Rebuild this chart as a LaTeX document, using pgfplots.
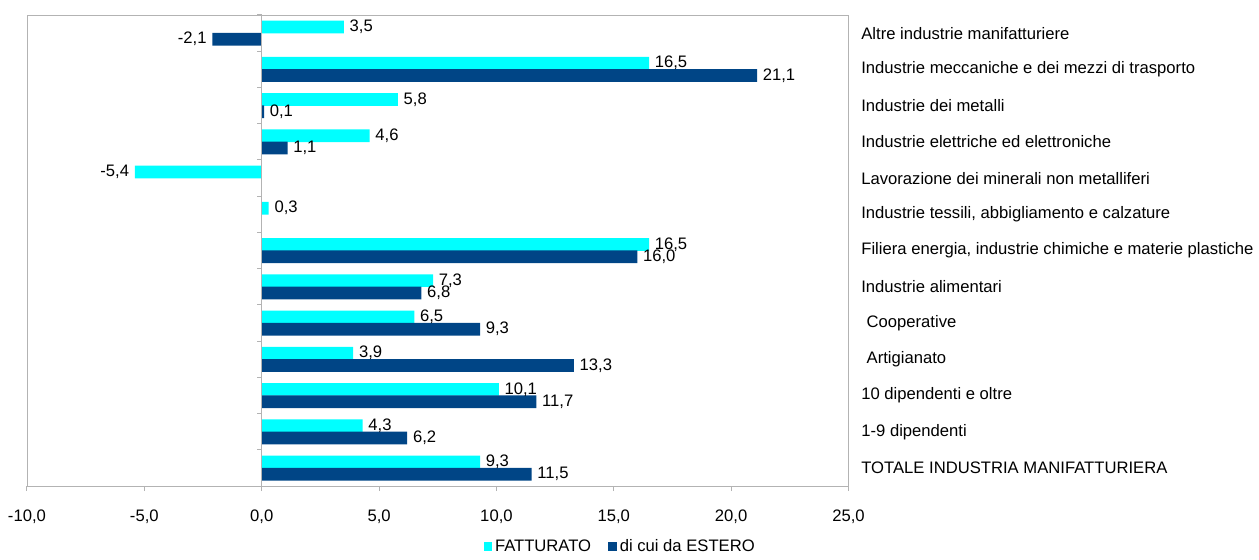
\documentclass[border=0pt]{standalone}
\usepackage{fontspec}
\setmainfont{Liberation Sans}
\usepackage{pgfplots}
\pgfplotsset{compat=1.18}
\definecolor{cfat}{HTML}{00FFFF}
\definecolor{cest}{HTML}{004586}
\definecolor{axgray}{HTML}{B3B3B3}
\begin{document}
\fontsize{12.5}{15}\selectfont
\begin{tikzpicture}
\begin{axis}[
  scale only axis,
  width=617.25pt, height=354pt,
  xmin=-10, xmax=25, ymin=-0.5, ymax=12.5,
  xbar, bar width=0.35,
  axis line style={axgray},
  every tick/.style={axgray, line width=0.8pt},
  xtick={-10,-5,0,5,10,15,20,25},
  xtick pos=bottom, tick align=outside,
  major tick length=3.75pt,
  /pgf/number format/fixed, /pgf/number format/fixed zerofill, /pgf/number format/precision=1, /pgf/number format/use comma, /pgf/number format/assume math mode=true,
  xticklabel style={yshift=-10pt},
  ytick={0,...,12},
  yticklabels={TOTALE INDUSTRIA MANIFATTURIERA, 1-9 dipendenti, 10 dipendenti e oltre, \hspace{4pt}Artigianato, \hspace{4pt}Cooperative, Industrie alimentari, {Filiera energia, industrie chimiche e materie plastiche}, {Industrie tessili, abbigliamento e calzature}, Lavorazione dei minerali non metalliferi, Industrie elettriche ed elettroniche, Industrie dei metalli, Industrie meccaniche e dei mezzi di trasporto, Altre industrie manifatturiere},
  ytick pos=right, yticklabel pos=right,
  ytick style={draw=none},
  minor ytick={-0.5,0.5,...,12.5},
  minor tick length=3.75pt,
  yticklabel style={anchor=west, xshift=1.5pt},
  nodes near coords,
  nodes near coords align={horizontal},
  every node near coord/.append style={black, font=\fontsize{12.5}{15}\selectfont},
  legend columns=2,
  legend style={draw=none, at={(0.7225,-0.129)}, anchor=center, /tikz/every even column/.append style={column sep=11pt}},
  legend image code/.code={\path[#1,draw=none] (-1.5pt,-3pt) rectangle (5pt,3.5pt);},
]
\addplot[fill=cfat, draw=none, bar shift=0.17] coordinates {
 (9.3,0) (4.3,1) (10.1,2) (3.9,3) (6.5,4) (7.3,5) (16.5,6) (0.3,7) (-5.4,8) (4.6,9) (5.8,10) (16.5,11) (3.5,12)};
\addlegendentry{FATTURATO}
\addplot[fill=cest, draw=none, bar shift=-0.17] coordinates {
 (11.5,0) (6.2,1) (11.7,2) (13.3,3) (9.3,4) (6.8,5) (16.0,6) (1.1,9) (0.1,10) (21.1,11) (-2.1,12)};
\addlegendentry{di cui da ESTERO}
\draw[axgray, line width=0.8pt] (axis cs:0,-0.5) -- (axis cs:0,12.5);
\pgfplotsinvokeforeach{-0.5,0.5,...,12.5}{\draw[axgray, line width=0.8pt] (axis cs:0,#1) -- ++(-3.75pt,0pt);}
\end{axis}
\path (current axis.south west) ++(-20.25pt,-53.25pt) rectangle ++(944.25pt,418.5pt);
\end{tikzpicture}
\end{document}
